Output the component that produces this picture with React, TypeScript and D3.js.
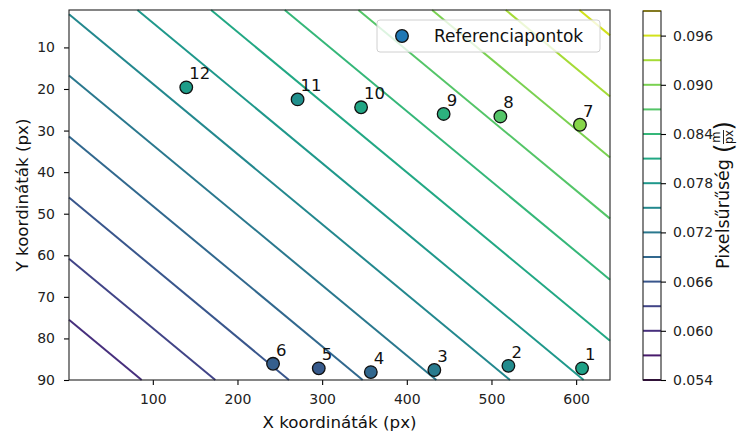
import React, { useRef, useEffect } from "react";
import * as d3 from "d3";

// ── Data ──────────────────────────────────────────────────────────────────────

const POINT_LABELS = ["1", "2", "3", "4", "5", "6", "7", "8", "9", "10", "11", "12"];
const POINT_X = [607, 520, 432.5, 357.5, 296, 242, 604.5, 510.5, 443.5, 346, 271, 139.5];
const POINT_Y = [87.2, 86.6, 87.6, 88.1, 87.2, 86.1, 28.6, 26.6, 26.0, 24.4, 22.5, 19.6];
const POINT_VALUE = [
  0.0797, 0.0756, 0.0725, 0.0689, 0.0666, 0.0675, 0.0909, 0.0869, 0.0828, 0.0806, 0.0765, 0.0788,
];

const LEVELS = [
  0.054, 0.057, 0.06, 0.063, 0.066, 0.069, 0.072, 0.075, 0.078, 0.081, 0.084, 0.087, 0.09, 0.093,
  0.096, 0.099,
];
const CBAR_TICKS = [0.054, 0.06, 0.066, 0.072, 0.078, 0.084, 0.09, 0.096];
const X_TICKS = [100, 200, 300, 400, 500, 600];
const Y_TICKS = [10, 20, 30, 40, 50, 60, 70, 80, 90];

// plane fitted to the contour lines (value at x=1, y=90 and its gradient)
const PLANE_BASE = 0.05704;
const PLANE_GX = 3.448e-5;
const PLANE_GY = 2.042e-4;
const X_DOMAIN: [number, number] = [1, 640];
const Y_DOMAIN: [number, number] = [1, 90];

// ── Layout ────────────────────────────────────────────────────────────────────

const W = 745;
const H = 434;
const PLOT = { left: 69, right: 610, top: 10, bottom: 380 };
const CBAR = { left: 643, right: 661 };
const FONT = "DejaVu Sans, sans-serif";

function planeValue(x: number, y: number) {
  return PLANE_BASE + PLANE_GX * (x - X_DOMAIN[0]) + PLANE_GY * (Y_DOMAIN[1] - y);
}

// straight isoline of the plane clipped to the data rectangle
function isoline(level: number): [number, number][] {
  const [x0, x1] = X_DOMAIN;
  const [y0, y1] = Y_DOMAIN;
  const pts: [number, number][] = [];
  const yAt = (x: number) => Y_DOMAIN[1] - (level - PLANE_BASE - PLANE_GX * (x - x0)) / PLANE_GY;
  const xAt = (y: number) => x0 + (level - PLANE_BASE - PLANE_GY * (Y_DOMAIN[1] - y)) / PLANE_GX;
  [x0, x1].forEach((x) => {
    const y = yAt(x);
    if (y >= y0 && y <= y1) pts.push([x, y]);
  });
  [y0, y1].forEach((y) => {
    const x = xAt(y);
    if (x >= x0 && x <= x1) pts.push([x, y]);
  });
  pts.sort((a, b) => a[0] - b[0]);
  return pts;
}

export default function App() {
  const svgRef = useRef<SVGSVGElement>(null);

  useEffect(() => {
    if (!svgRef.current) return;
    const svg = d3.select(svgRef.current);
    svg.selectAll("*").remove();

    const xScale = d3.scaleLinear().domain(X_DOMAIN).range([PLOT.left, PLOT.right]);
    const yScale = d3.scaleLinear().domain(Y_DOMAIN).range([PLOT.top, PLOT.bottom]);
    const lo = LEVELS[0];
    const hi = LEVELS[LEVELS.length - 1];
    const color = (v: number) => d3.interpolateViridis((v - lo) / (hi - lo));

    // Contour lines
    const line = d3
      .line<[number, number]>()
      .x((d) => xScale(d[0]))
      .y((d) => yScale(d[1]));
    const zMin = planeValue(X_DOMAIN[0], Y_DOMAIN[1]);
    const zMax = planeValue(X_DOMAIN[1], Y_DOMAIN[0]);
    LEVELS.filter((l) => l > zMin && l < zMax).forEach((level) => {
      const pts = isoline(level);
      if (pts.length < 2) return;
      svg
        .append("path")
        .attr("d", line(pts))
        .attr("fill", "none")
        .attr("stroke", color(level))
        .attr("stroke-width", 2);
    });

    const styleAxis = (axis: d3.Selection<SVGGElement, unknown, null, undefined>) => {
      axis.select(".domain").remove();
      axis.selectAll(".tick line").attr("stroke", "#000").attr("stroke-width", 1.1);
      axis
        .selectAll(".tick text")
        .attr("fill", "#222")
        .attr("font-size", 14)
        .attr("font-family", FONT);
    };

    // X axis
    svg
      .append("g")
      .attr("transform", `translate(0,${PLOT.bottom})`)
      .call(d3.axisBottom(xScale).tickValues(X_TICKS).tickSize(5).tickPadding(9))
      .call(styleAxis);

    // Y axis
    svg
      .append("g")
      .attr("transform", `translate(${PLOT.left},0)`)
      .call(d3.axisLeft(yScale).tickValues(Y_TICKS).tickSize(5).tickPadding(9))
      .call(styleAxis);

    // Spines
    svg
      .append("rect")
      .attr("x", PLOT.left)
      .attr("y", PLOT.top)
      .attr("width", PLOT.right - PLOT.left)
      .attr("height", PLOT.bottom - PLOT.top)
      .attr("fill", "none")
      .attr("stroke", "#222")
      .attr("stroke-width", 1.1);

    // Points
    const pts = POINT_X.map((x, i) => ({ x, y: POINT_Y[i], v: POINT_VALUE[i], label: POINT_LABELS[i] }));
    svg
      .append("g")
      .selectAll("circle")
      .data(pts)
      .join("circle")
      .attr("cx", (d) => xScale(d.x))
      .attr("cy", (d) => yScale(d.y))
      .attr("r", 6.3)
      .attr("fill", (d) => color(d.v))
      .attr("stroke", "#111")
      .attr("stroke-width", 1.3);
    svg
      .append("g")
      .selectAll("text")
      .data(pts)
      .join("text")
      .attr("x", (d) => xScale(d.x) + 3)
      .attr("y", (d) => yScale(d.y) - 8)
      .attr("font-size", 16.5)
      .attr("font-family", FONT)
      .attr("fill", "#111")
      .text((d) => d.label);

    // Legend
    const lg = svg.append("g");
    lg.append("rect")
      .attr("x", 377)
      .attr("y", 20)
      .attr("width", 223)
      .attr("height", 32)
      .attr("rx", 3)
      .attr("fill", "#fff")
      .attr("fill-opacity", 0.8)
      .attr("stroke", "#d0d0d0");
    lg.append("circle")
      .attr("cx", 402)
      .attr("cy", 36)
      .attr("r", 6.3)
      .attr("fill", "#1f77b4")
      .attr("stroke", "#111")
      .attr("stroke-width", 1.3);
    lg.append("text")
      .attr("x", 434)
      .attr("y", 42)
      .attr("font-size", 17)
      .attr("font-family", FONT)
      .attr("fill", "#111")
      .text("Referenciapontok");

    // Axis labels
    svg
      .append("text")
      .attr("x", (PLOT.left + PLOT.right) / 2)
      .attr("y", 428)
      .attr("text-anchor", "middle")
      .attr("font-size", 16.7)
      .attr("font-family", FONT)
      .attr("fill", "#111")
      .text("X koordináták (px)");
    svg
      .append("text")
      .attr("transform", `translate(28,${(PLOT.top + PLOT.bottom) / 2}) rotate(-90)`)
      .attr("text-anchor", "middle")
      .attr("font-size", 16.7)
      .attr("font-family", FONT)
      .attr("fill", "#111")
      .text("Y koordináták (px)");

    // Colorbar
    const cScale = d3.scaleLinear().domain([lo, hi]).range([PLOT.bottom, PLOT.top + 1]);
    const cb = svg.append("g");
    LEVELS.forEach((level) => {
      cb.append("line")
        .attr("x1", CBAR.left)
        .attr("x2", CBAR.right)
        .attr("y1", cScale(level))
        .attr("y2", cScale(level))
        .attr("stroke", color(level))
        .attr("stroke-width", 2);
    });
    cb.append("rect")
      .attr("x", CBAR.left)
      .attr("y", PLOT.top + 1)
      .attr("width", CBAR.right - CBAR.left)
      .attr("height", PLOT.bottom - PLOT.top - 1)
      .attr("fill", "none")
      .attr("stroke", "#222")
      .attr("stroke-width", 1.1);
    svg
      .append("g")
      .attr("transform", `translate(${CBAR.right},0)`)
      .call(d3.axisRight(cScale).tickValues(CBAR_TICKS).tickSize(5).tickPadding(7).tickFormat(d3.format(".3f")))
      .call(styleAxis);

    // Colorbar label with fraction m / px
    const lab = svg
      .append("g")
      .attr("transform", `translate(723,${(PLOT.top + PLOT.bottom) / 2}) rotate(-90)`);
    const main = lab
      .append("text")
      .attr("y", 6)
      .attr("font-size", 17.5)
      .attr("font-family", FONT)
      .attr("fill", "#111")
      .text("Pixelsűrűség");
    const mainW = (main.node() as SVGTextElement).getComputedTextLength();
    const fracW = 32;
    const start = -(mainW + 6 + fracW) / 2;
    main.attr("x", start);
    const fx = start + mainW + 6;
    const frac = lab.append("g").attr("font-family", FONT).attr("fill", "#111");
    frac.append("text").attr("x", fx).attr("y", 9).attr("font-size", 24).text("(");
    frac.append("text").attr("x", fx + fracW).attr("y", 9).attr("font-size", 24).attr("text-anchor", "end").text(")");
    frac.append("text").attr("x", fx + fracW / 2).attr("y", -3).attr("font-size", 11.5).attr("text-anchor", "middle").text("m");
    frac.append("text").attr("x", fx + fracW / 2).attr("y", 10).attr("font-size", 11.5).attr("text-anchor", "middle").text("px");
    frac
      .append("line")
      .attr("x1", fx + 9)
      .attr("x2", fx + fracW - 9)
      .attr("y1", 0.5)
      .attr("y2", 0.5)
      .attr("stroke", "#111")
      .attr("stroke-width", 0.9);
  }, []);

  return (
    <svg
      ref={svgRef}
      width={W}
      height={H}
      style={{ position: "absolute", left: 0, top: 0, background: "#fff", display: "block" }}
    />
  );
}
